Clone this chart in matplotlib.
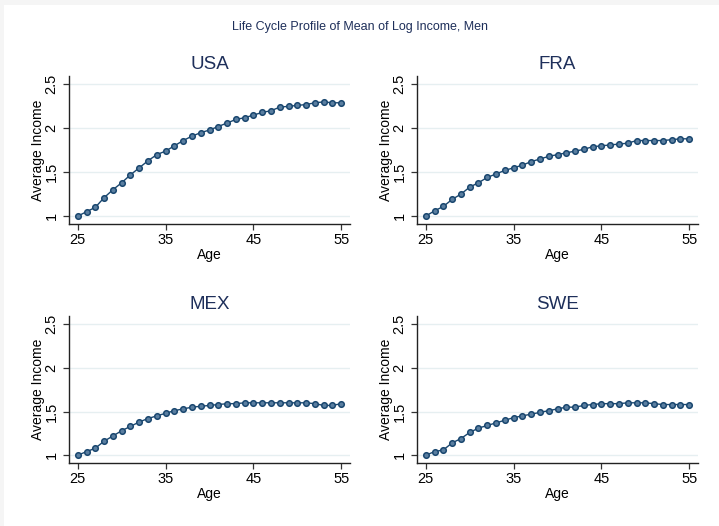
import matplotlib
matplotlib.use('Agg')
import matplotlib.pyplot as plt
from matplotlib.patches import Rectangle

plt.rcParams['font.family'] = ['Liberation Sans', 'DejaVu Sans']

ages = list(range(25, 56))

usa = [1.00, 1.05, 1.10, 1.21, 1.30, 1.38, 1.47, 1.55, 1.63, 1.70, 1.74,
       1.80, 1.86, 1.91, 1.95, 1.98, 2.02, 2.06, 2.10, 2.12, 2.15,
       2.18, 2.20, 2.24, 2.25, 2.26, 2.27, 2.29, 2.30, 2.29, 2.29]
fra = [1.00, 1.06, 1.11, 1.19, 1.25, 1.33, 1.38, 1.44, 1.48, 1.52, 1.55,
       1.58, 1.62, 1.65, 1.68, 1.70, 1.72, 1.74, 1.76, 1.79, 1.80,
       1.81, 1.82, 1.83, 1.86, 1.86, 1.86, 1.86, 1.87, 1.88, 1.88]
mex = [1.00, 1.04, 1.08, 1.16, 1.22, 1.28, 1.33, 1.38, 1.42, 1.45, 1.48,
       1.51, 1.53, 1.55, 1.56, 1.57, 1.58, 1.59, 1.59, 1.60, 1.60,
       1.60, 1.60, 1.60, 1.60, 1.60, 1.60, 1.59, 1.57, 1.57, 1.59]
swe = [1.00, 1.04, 1.06, 1.14, 1.19, 1.26, 1.31, 1.34, 1.37, 1.40, 1.43,
       1.45, 1.47, 1.49, 1.51, 1.53, 1.55, 1.55, 1.57, 1.58, 1.59,
       1.59, 1.59, 1.60, 1.60, 1.60, 1.59, 1.58, 1.58, 1.58, 1.58]

countries = ['USA', 'FRA', 'MEX', 'SWE']
series = [usa, fra, mex, swe]

W, H = 719, 526
fig = plt.figure(figsize=(W / 100, H / 100), dpi=100, facecolor='#f5f5f5')
fig.patches.append(Rectangle((4 / W, 0), 1, 1 - 5 / H, transform=fig.transFigure,
                             facecolor='white', edgecolor='none', zorder=-10))

navy = '#1a476f'
title_col = '#1e2f5a'

# axes boxes in pixels: left, right, top, bottom
boxes = [(69, 350, 76, 224), (417, 698, 76, 224),
         (69, 350, 316, 463), (417, 698, 316, 463)]

for name, vals, (l, r, t, b) in zip(countries, series, boxes):
    ax = fig.add_axes([l / W, 1 - b / H, (r - l) / W, (b - t) / H])
    ax.patch.set_alpha(0)
    ax.plot(ages, vals, color=navy, lw=1.0, marker='o', ms=4.0,
            mfc='#5a7ea0', mec=navy, mew=1.1, zorder=3)
    ax.set_xlim(24.0, 56.0)
    ax.set_ylim(0.91, 2.595)
    ax.set_xticks([25, 35, 45, 55])
    ax.set_yticks([1, 1.5, 2, 2.5])
    ax.set_yticklabels(['1', '1.5', '2', '2.5'], rotation=90, va='center')
    ax.grid(axis='y', color='#e6eff1', lw=1.0)
    ax.set_axisbelow(True)
    for s in ['top', 'right']:
        ax.spines[s].set_visible(False)
    for s in ['left', 'bottom']:
        ax.spines[s].set_color('#222222')
        ax.spines[s].set_linewidth(1.0)
    ax.tick_params(direction='out', length=4.5, width=0.9, color='#333333',
                   labelsize=10.5, labelcolor='black', pad=2)
    ax.tick_params(axis='y', pad=3)
    ax.set_xlabel('Age', fontsize=10, labelpad=1)
    ax.set_ylabel('Average Income', fontsize=10, labelpad=0)
    ax.set_title(name, fontsize=13.5, color=title_col, pad=5)

fig.text(0.5, 1 - 27 / H, 'Life Cycle Profile of Mean of Log Income, Men',
         ha='center', va='center', fontsize=9, color=title_col)

fig.savefig('out.png', dpi=100, facecolor=fig.get_facecolor())
